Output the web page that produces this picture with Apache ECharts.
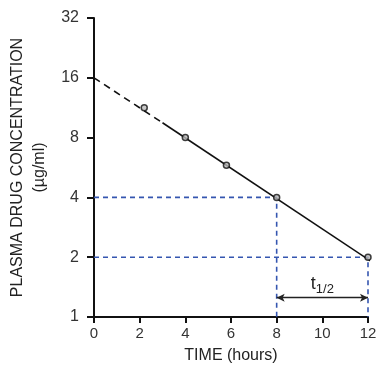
<!DOCTYPE html>
<html><head><meta charset="utf-8">
<script src="https://cdn.jsdelivr.net/npm/echarts@6/dist/echarts.min.js"></script>
<style>html,body{margin:0;padding:0;background:#fff}#c{width:379px;height:377px}</style>
</head><body><div id="c"></div>
<script>
// Observed data points (time in hours, concentration in µg/ml)
const pointTimes = [2.2, 4, 5.8, 8, 12];
const pointConc = [11.3, 8, 5.8, 4, 2];
// Fitted line: extrapolated (dashed) part and measured (solid) part
const dashedTimes = [0, 3];
const dashedConc = [16, 9.5];
const solidTimes = [3, 12.4];
const solidConc = [9.5, 1.82];
// Half-life guide lines
const guideLevels = [4, 2];
const guideTimes = [8, 12];
const halfLifeY = 1.25;
const yTicks = [1, 2, 4, 8, 16, 32];
const xTicks = [0, 2, 4, 6, 8, 10, 12];

const F = 'Liberation Sans, Arial, sans-serif';
const blue = '#3556b0';
const zip = (a, b) => a.map((v, i) => [v, b[i]]);

const guideSeries = [];
guideLevels.forEach((lv, i) => {
  guideSeries.push({
    type: 'line', data: [[0, lv], [guideTimes[i], lv], [guideTimes[i], 1]],
    symbol: 'none', silent: true, z: 1,
    lineStyle: { color: blue, width: 1.6, type: [5, 4] }
  });
});

const chart = echarts.init(document.getElementById('c'));
chart.setOption({
  animation: false,
  grid: { left: 94, right: 11, top: 18, bottom: 60, containLabel: false, outerBoundsMode: 'none' },
  xAxis: {
    type: 'value', min: 0, max: 12, interval: 2,
    name: 'TIME (hours)', nameLocation: 'middle', nameGap: 31,
    nameTextStyle: { fontFamily: F, fontSize: 16, color: '#222' },
    axisLine: { lineStyle: { color: '#111', width: 2 } },
    axisTick: { length: 6, lineStyle: { color: '#111', width: 2 } },
    axisLabel: { fontFamily: F, fontSize: 15, color: '#333', margin: 9,
      formatter: v => xTicks.includes(v) ? String(v) : '' },
    splitLine: { show: false }
  },
  yAxis: {
    type: 'log', logBase: 2, min: 1, max: 32,
    name: 'PLASMA DRUG CONCENTRATION\n(µg/ml)', nameLocation: 'middle', nameGap: 43,
    nameRotate: 90,
    nameTextStyle: { fontFamily: F, fontSize: 16, color: '#222', lineHeight: 22 },
    axisLine: { lineStyle: { color: '#111', width: 2 } },
    axisTick: { length: 7, lineStyle: { color: '#111', width: 2 } },
    axisLabel: { fontFamily: F, fontSize: 16, color: '#333', margin: 15,
      formatter: v => yTicks.includes(Math.round(v)) ? String(Math.round(v)) : '' },
    splitLine: { show: false }
  },
  series: guideSeries.concat([
    { type: 'line', data: zip(dashedTimes, dashedConc), symbol: 'none', silent: true, z: 3,
      lineStyle: { color: '#111', width: 1.6, type: [7, 5] } },
    { type: 'line', data: zip(solidTimes, solidConc), symbol: 'none', silent: true, z: 3, clip: false,
      lineStyle: { color: '#111', width: 1.6 } },
    { type: 'scatter', data: zip(pointTimes, pointConc), symbol: 'circle', symbolSize: 6, z: 4,
      itemStyle: { color: '#bbb', borderColor: '#111', borderWidth: 1.5 } },
    { type: 'line', data: [], silent: true,
      markLine: {
        silent: true, symbol: ['arrow', 'arrow'], symbolSize: [6, 8],
        lineStyle: { color: '#222', width: 1.3, type: 'solid' },
        label: { show: true, position: 'middle', distance: 2,
          formatter: '{t|t}{s|1/2}',
          rich: { t: { fontFamily: F, fontSize: 18, color: '#222' },
                  s: { fontFamily: F, fontSize: 13, color: '#222', verticalAlign: 'bottom', padding: [10, 0, 0, 0] } } },
        data: [[{ coord: [guideTimes[0], halfLifeY] }, { coord: [guideTimes[1], halfLifeY] }]]
      } }
  ])
});
</script></body></html>
